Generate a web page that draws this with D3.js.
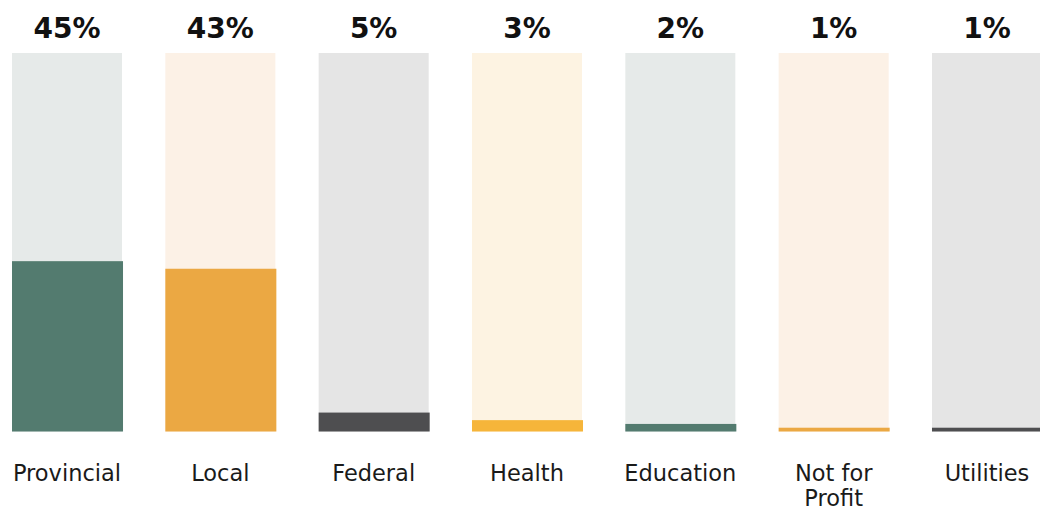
<!DOCTYPE html>
<html>
    <head>
        <meta charset="utf-8" />
        <style>
            body { margin: 0; background: #fff; }
            text { font-family: "DejaVu Sans", sans-serif; fill: #111; }
            .pct { font-size: 28px; font-weight: bold; }
            .cat { font-size: 22.5px; font-weight: normal; fill: #1a1a1a; }
        </style>
    </head>
    <body>
        <svg width="1040" height="513"></svg>
        <script src="https://d3js.org/d3.v7.min.js"></script>
        <script>
            var categories = ["Provincial", "Local", "Federal", "Health", "Education", "Not for Profit", "Utilities"];
            var values = [45, 43, 5, 3, 2, 1, 1];
            var barColors = ["#537b6f", "#eba843", "#4e4e50", "#f6b53a", "#537b6f", "#eba843", "#4e4e50"];
            var trackColors = ["#e6eae9", "#fcf1e6", "#e5e5e5", "#fdf3e2", "#e6eae9", "#fcf1e6", "#e5e5e5"];

            var svg = d3.select("svg");

            var x = d3.scaleBand()
                    .domain(categories)
                    .range([12, 1042])
                    .paddingInner(0.2825)
                    .paddingOuter(0);

            var y = d3.scaleLinear()
                    .domain([0, 100])
                    .range([431.5, 53]);

            var data = categories.map(function (c, i) {
                return {name: c, value: values[i], bar: barColors[i], track: trackColors[i]};
            });

            // background tracks
            svg.append("g").selectAll("rect")
                    .data(data)
                    .enter().append("rect")
                    .attr("x", function (d) { return x(d.name); })
                    .attr("y", y(100))
                    .attr("width", x.bandwidth())
                    .attr("height", y(0) - y(100))
                    .attr("fill", function (d) { return d.track; });

            // value bars
            svg.append("g").selectAll("rect")
                    .data(data)
                    .enter().append("rect")
                    .attr("x", function (d) { return x(d.name); })
                    .attr("y", function (d) { return y(d.value); })
                    .attr("width", x.bandwidth() + 1)
                    .attr("height", function (d) { return y(0) - y(d.value); })
                    .attr("fill", function (d) { return d.bar; });

            // percent labels
            svg.append("g").selectAll("text")
                    .data(data)
                    .enter().append("text")
                    .attr("class", "pct")
                    .attr("x", function (d) { return x(d.name) + x.bandwidth() / 2; })
                    .attr("y", 38)
                    .attr("text-anchor", "middle")
                    .text(function (d) { return d.value + "%"; });

            // category labels, wrapped to bar width
            var cats = svg.append("g").selectAll("text")
                    .data(data)
                    .enter().append("text")
                    .attr("class", "cat")
                    .attr("text-anchor", "middle")
                    .attr("y", 481);

            cats.each(function (d) {
                var t = d3.select(this),
                        cx = x(d.name) + x.bandwidth() / 2,
                        words = d.name.split(" "),
                        line = [],
                        tspan = t.append("tspan").attr("x", cx).attr("dy", 0);
                words.forEach(function (w) {
                    line.push(w);
                    tspan.text(line.join(" "));
                    if (tspan.node().getComputedTextLength() > x.bandwidth() + 10 && line.length > 1) {
                        line.pop();
                        tspan.text(line.join(" "));
                        line = [w];
                        tspan = t.append("tspan").attr("x", cx).attr("dy", 25).text(w);
                    }
                });
            });
        </script>
    </body>
</html>
